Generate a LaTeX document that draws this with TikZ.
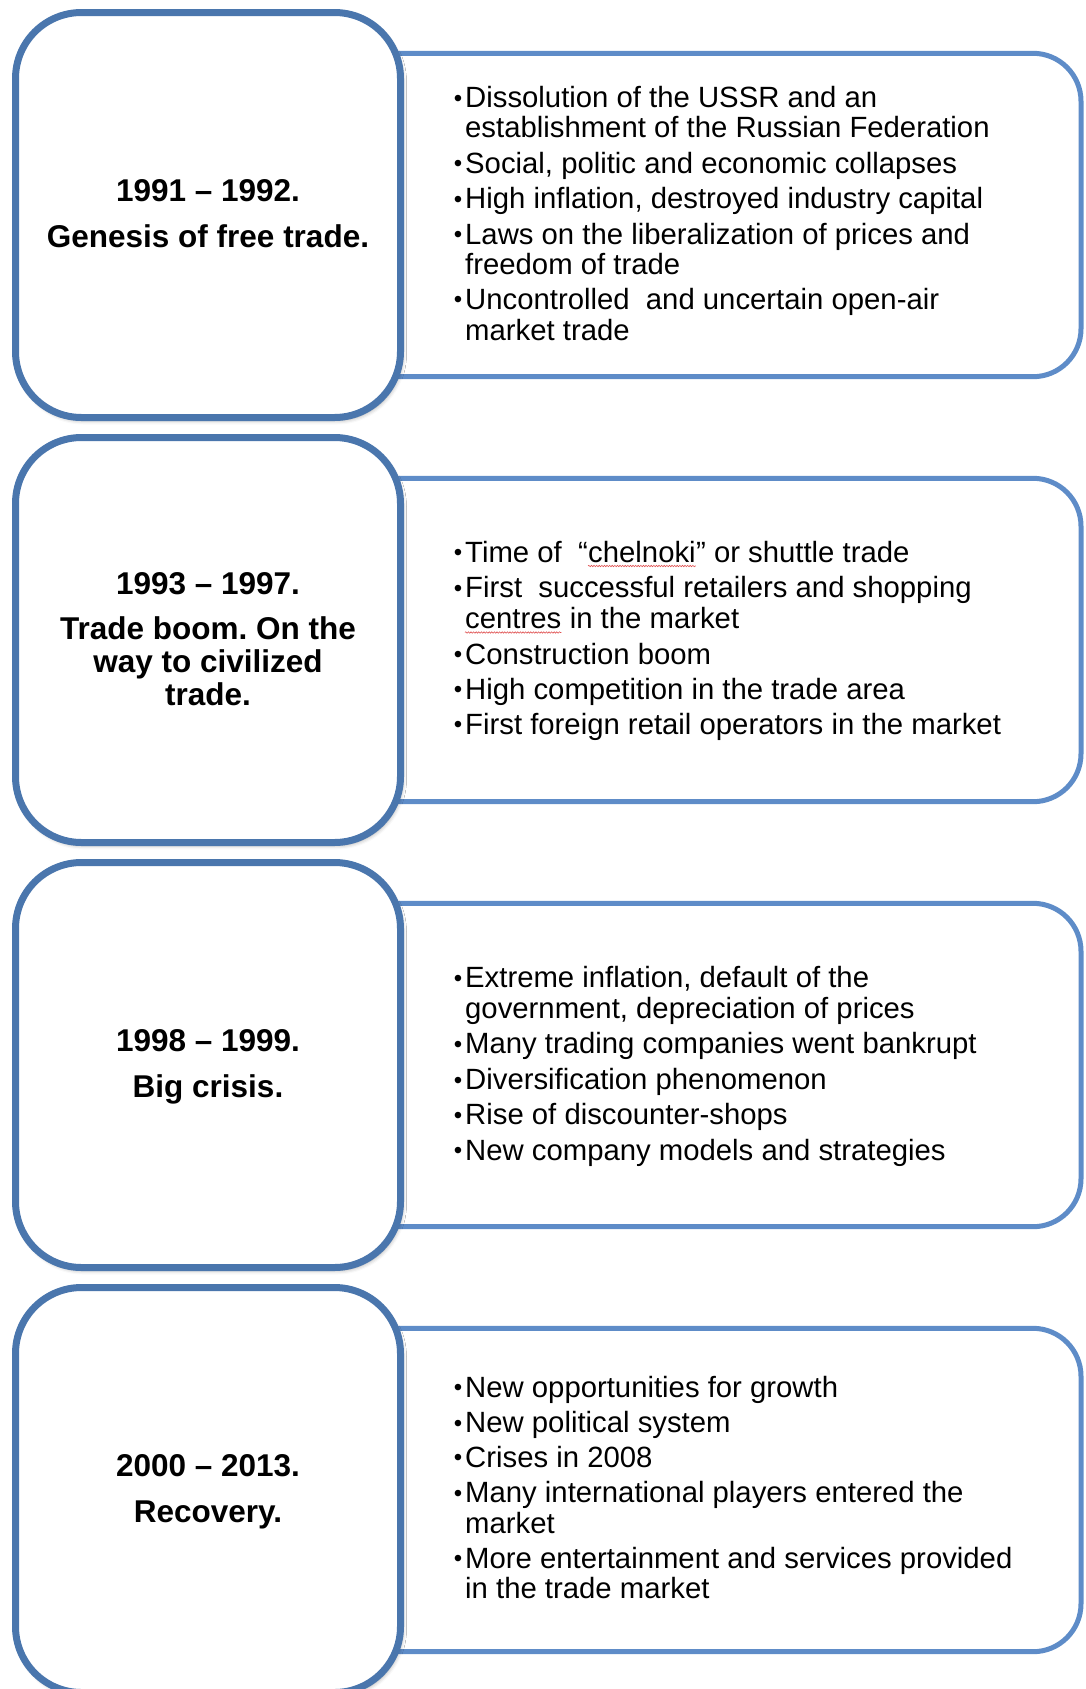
\documentclass[tikz,border=0pt]{standalone}
\usepackage{fontspec}
\setmainfont{Liberation Sans}
\usetikzlibrary{shadows.blur,decorations.pathmorphing}

\definecolor{periodblue}{HTML}{4A76AD}
\definecolor{eventblue}{HTML}{5E8CC8}
\definecolor{spellred}{HTML}{E05050}

\tikzset{
  periodbox/.style={draw=periodblue, line width=7pt, fill=white, rounded corners=66pt,
    blur shadow={shadow xshift=2pt, shadow yshift=-3pt, shadow blur radius=4pt, shadow opacity=35}},
  eventbox/.style={draw=eventblue, line width=5pt, fill=white, rounded corners=48pt},
  periodtitle/.style={font=\fontsize{31.5}{33}\selectfont\bfseries, anchor=base, inner sep=0pt},
  eventline/.style={font=\fontsize{29.3}{30}\selectfont, anchor=base west, inner sep=0pt},
  spellmark/.style={draw=spellred, line width=0.6pt,
    decorate, decoration={snake, amplitude=0.7pt, segment length=2.6pt}},
}
% hanging bullet set slightly smaller than the item text
\newcommand{\bul}{\llap{\raisebox{1.5pt}{\fontsize{24}{24}\selectfont •}\kern3pt}}
\frenchspacing

\begin{document}
\begin{tikzpicture}[x=1pt, y=-1pt]
  \useasboundingbox (0,0) rectangle (1085,1689);
  \clip (0,0) rectangle (1085,1689);

  % event panels (behind), then period panels on top
  \foreach \k in {0,1,2,3} {
    \pgfmathsetmacro{\off}{425*\k}
    \draw[eventbox] (330,53.3+\off) rectangle (1081,376.7+\off);
    \draw[periodbox] (15.5,12.5+\off) rectangle (400.5,417.5+\off);
  }

  % 1991 - 1992
  \node[periodtitle] (p1a) at (208,201.5) {1991 – 1992.};
  \node[periodtitle] (p1b) at (208,247.5) {Genesis of free trade.};
  \foreach \y/\txt [count=\i] in {
      107.5/{\bul Dissolution of the USSR and an},
      137.5/{establishment of the Russian Federation},
      173/{\bul Social, politic and economic collapses},
      208.5/{\bul High inflation, destroyed industry capital},
      244/{\bul Laws on the liberalization of prices and},
      274.5/{freedom of trade},
      309/{\bul Uncontrolled\ \ and uncertain open-air},
      340/{market trade}}
    \node[eventline] (e1l\i) at (465,\y) {\txt};

  % 1993 - 1997
  \node[periodtitle] (p2a) at (208,594) {1993 – 1997.};
  \node[periodtitle] (p2b) at (208,639) {Trade boom. On the};
  \node[periodtitle] (p2c) at (208,672) {way to civilized};
  \node[periodtitle] (p2d) at (208,705) {trade.};
  \node[eventline] (e2a) at (465,562) {\bul Time of\ \ “};
  \node[eventline] (e2w) at (e2a.base east) {chelnoki};
  \node[eventline] (e2b) at (e2w.base east) {” or shuttle trade};
  \node[eventline] (e2c) at (465,597.5) {\bul First\ \ successful retailers and shopping};
  \node[eventline] (e2v) at (465,628.5) {centres};
  \node[eventline] (e2d) at (e2v.base east) {\ in the market};
  \foreach \y/\txt [count=\i] in {
      664/{\bul Construction boom},
      699/{\bul High competition in the trade area},
      734/{\bul First foreign retail operators in the market}}
    \node[eventline] (e2l\i) at (465,\y) {\txt};
  \draw[spellmark] ([yshift=-4pt]e2w.base west) -- ([yshift=-4pt]e2w.base east);
  \draw[spellmark] ([yshift=-4pt]e2v.base west) -- ([yshift=-4pt]e2v.base east);

  % 1998 - 1999
  \node[periodtitle] (p3a) at (208,1051.5) {1998 – 1999.};
  \node[periodtitle] (p3b) at (208,1097) {Big crisis.};
  \foreach \y/\txt [count=\i] in {
      987.5/{\bul Extreme inflation, default of the},
      1018.5/{government, depreciation of prices},
      1053.5/{\bul Many trading companies went bankrupt},
      1089.5/{\bul Diversification phenomenon},
      1124.5/{\bul Rise of discounter-shops},
      1160/{\bul New company models and strategies}}
    \node[eventline] (e3l\i) at (465,\y) {\txt};

  % 2000 - 2013
  \node[periodtitle] (p4a) at (208,1476.5) {2000 – 2013.};
  \node[periodtitle] (p4b) at (208,1522) {Recovery.};
  \foreach \y/\txt [count=\i] in {
      1397/{\bul New opportunities for growth},
      1432.5/{\bul New political system},
      1467/{\bul Crises in 2008},
      1502.5/{\bul Many international players entered the},
      1533/{market},
      1568/{\bul More entertainment and services provided},
      1598/{in the trade market}}
    \node[eventline] (e4l\i) at (465,\y) {\txt};
\end{tikzpicture}
\end{document}
